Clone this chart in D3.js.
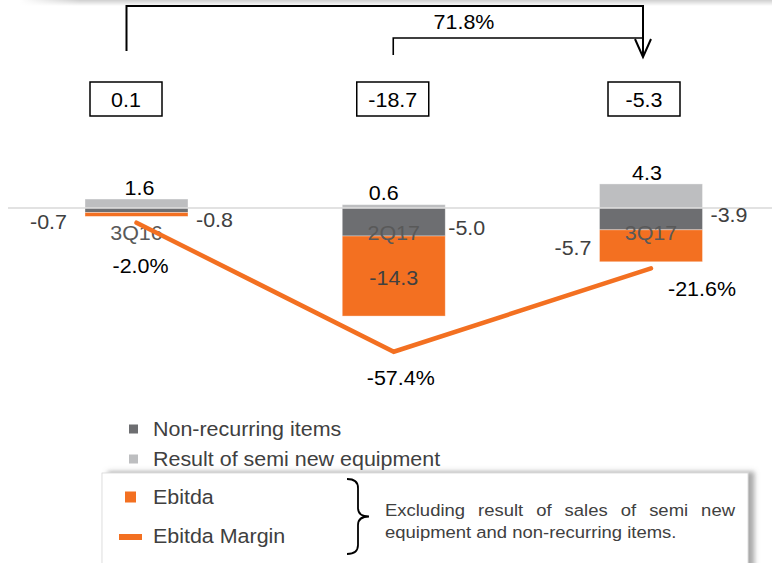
<!DOCTYPE html>
<html>
<head>
<meta charset="utf-8">
<script src="https://cdn.jsdelivr.net/npm/d3@7"></script>
<style>
  body { margin: 0; background: #fff; }
  svg { display: block; font-family: "Liberation Sans", Arial, sans-serif; }
</style>
</head>
<body>
<svg id="chart" width="772" height="563"></svg>
<script>
// Quarterly EBITDA bridge, R$ million
const quarters = ["3Q16", "2Q17", "3Q17"];
const ebitda = [-0.7, -14.3, -5.7];
const nonRecurring = [-0.8, -5.0, -3.9];
const semiNew = [1.6, 0.6, 4.3];
const totals = [0.1, -18.7, -5.3];
const ebitdaMargin = [-2.0, -57.4, -21.6];
const variationLabel = "71.8%";
const legendItems = ["Non-recurring items", "Result of semi new equipment"];
const boxLegendItems = ["Ebitda", "Ebitda Margin"];
const noteLines = ["Excluding result of sales of semi new", "equipment and non-recurring items."];

const COLORS = {
  orange: "#F37021",
  dark: "#6D6E71",
  light: "#BDBEC0",
  axis: "#D9D9D9",
  text: "#404040",
  cat: "#595959"
};

// slide text is set slightly wide
const SX = 1.1;
const FS = 19.5;

const svg = d3.select("#chart");
const defs = svg.append("defs");

// places text with its own origin so the horizontal widening keeps anchors
function place(sel, fx, fy) {
  return sel.attr("transform", (d, i) => `translate(${fx(d, i)},${fy(d, i)}) scale(${SX},1)`);
}

// soft shadow under the panel edge at the top
const topGrad = defs.append("linearGradient").attr("id", "topShade")
  .attr("x1", 0).attr("y1", 0).attr("x2", 0).attr("y2", 1);
topGrad.append("stop").attr("offset", 0).attr("stop-color", "#cfcfcf");
topGrad.append("stop").attr("offset", 1).attr("stop-color", "#ffffff");
const leftFade = defs.append("linearGradient").attr("id", "leftFade");
leftFade.append("stop").attr("offset", 0).attr("stop-color", "#fff").attr("stop-opacity", 1);
leftFade.append("stop").attr("offset", 0.08).attr("stop-color", "#fff").attr("stop-opacity", 0);

const shadow = defs.append("filter").attr("id", "boxShadow")
  .attr("x", "-5%").attr("y", "-20%").attr("width", "115%").attr("height", "140%");
shadow.append("feDropShadow").attr("dx", 6).attr("dy", -1)
  .attr("stdDeviation", 2.5).attr("flood-color", "#6f6f6f").attr("flood-opacity", 0.6);

svg.append("rect").attr("x", 20).attr("y", 0).attr("width", 752).attr("height", 6)
  .attr("fill", "url(#topShade)");
svg.append("rect").attr("x", 20).attr("y", 0).attr("width", 752).attr("height", 6)
  .attr("fill", "url(#leftFade)");

// scales
const x = d3.scalePoint().domain(quarters).range([136.5, 651]);
const barW = 103;
const yBar = d3.scaleLinear().domain([0, -20]).range([208, 320]);
const yPct = d3.scaleLinear().domain([0, -60]).range([218, 357.8]);

const fmt = v => v.toFixed(1);

// stacked segments: semi new above zero, non-recurring then ebitda below
const segs = [];
quarters.forEach((q, i) => {
  segs.push({ q, y0: 0, y1: semiNew[i], color: COLORS.light });
  segs.push({ q, y0: 0, y1: nonRecurring[i], color: COLORS.dark });
  segs.push({ q, y0: nonRecurring[i], y1: nonRecurring[i] + ebitda[i], color: COLORS.orange });
});

svg.append("g").selectAll("rect").data(segs).join("rect")
  .attr("x", d => x(d.q) - barW / 2)
  .attr("width", barW)
  .attr("y", d => Math.min(yBar(d.y0), yBar(d.y1)))
  .attr("height", d => Math.abs(yBar(d.y1) - yBar(d.y0)))
  .attr("fill", d => d.color)
  .attr("stroke", "#ffffff").attr("stroke-opacity", 0.45).attr("stroke-width", 0.8);

// zero line
svg.append("line").attr("x1", 8).attr("x2", 772)
  .attr("y1", yBar(0)).attr("y2", yBar(0))
  .attr("stroke", COLORS.axis).attr("stroke-width", 1.6);

// category labels
place(svg.append("g").selectAll("text").data(quarters).join("text"),
    d => x(d), () => yBar(0) + 25)
  .attr("text-anchor", "middle").attr("dominant-baseline", "central")
  .attr("font-size", FS).attr("fill", COLORS.cat)
  .text(d => d);

// semi new equipment values above the bars
place(svg.append("g").selectAll("text").data(quarters).join("text"),
    (d, i) => x(d) + [3, -10, -4][i], (d, i) => yBar(semiNew[i]) - 11.5)
  .attr("text-anchor", "middle").attr("dominant-baseline", "central")
  .attr("font-size", FS).attr("fill", "#000")
  .text((d, i) => fmt(semiNew[i]));

// non-recurring values, right of the bars
const nrGap = [8, 3, 8], nrDy = [10, 6, -4];
place(svg.append("g").selectAll("text").data(quarters).join("text"),
    (d, i) => x(d) + barW / 2 + nrGap[i], (d, i) => yBar(nonRecurring[i] / 2) + nrDy[i])
  .attr("text-anchor", "start").attr("dominant-baseline", "central")
  .attr("font-size", FS).attr("fill", COLORS.text)
  .text((d, i) => fmt(nonRecurring[i]));

// ebitda values: outside on the left for short bars, inside for the tall one
place(svg.append("g").selectAll("text").data(quarters).join("text"),
    (d, i) => i === 1 ? x(d) : x(d) - barW / 2 - [18, 0, 8][i],
    (d, i) => yBar(nonRecurring[i] + ebitda[i] / 2) + [7, 2, 2][i])
  .attr("text-anchor", (d, i) => i === 1 ? "middle" : "end")
  .attr("dominant-baseline", "central")
  .attr("font-size", FS).attr("fill", COLORS.text)
  .text((d, i) => fmt(ebitda[i]));

// ebitda margin line
const line = d3.line().x((d, i) => x(quarters[i])).y(d => yPct(d));
svg.append("path").datum(ebitdaMargin)
  .attr("d", line).attr("fill", "none")
  .attr("stroke", COLORS.orange).attr("stroke-width", 4.5)
  .attr("stroke-linecap", "round").attr("stroke-linejoin", "miter");

const pctOffset = [[4, 43], [7, 26], [51, 21]];
place(svg.append("g").selectAll("text").data(ebitdaMargin).join("text"),
    (d, i) => x(quarters[i]) + pctOffset[i][0], (d, i) => yPct(d) + pctOffset[i][1])
  .attr("text-anchor", "middle").attr("dominant-baseline", "central")
  .attr("font-size", FS).attr("fill", "#000")
  .text(d => fmt(d) + "%");

// total boxes
const boxW = 72, boxH = 34, boxTop = 82;
const boxShift = [-10.5, -1, -7];
const boxCx = quarters.map((q, i) => x(q) + boxShift[i]);
const boxes = svg.append("g").selectAll("g").data(totals).join("g")
  .attr("transform", (d, i) => `translate(${boxCx[i]},${boxTop})`);
boxes.append("rect").attr("x", -boxW / 2).attr("width", boxW).attr("height", boxH)
  .attr("fill", "#fff").attr("stroke", "#000").attr("stroke-width", 1.5);
place(boxes.append("text"), () => 0, () => boxH / 2 + 1)
  .attr("text-anchor", "middle").attr("dominant-baseline", "central")
  .attr("font-size", FS).attr("fill", "#000")
  .text(d => fmt(d));

// variation brackets
const bx1 = boxCx[0] + 0.5, bx2 = boxCx[1] + 0.5, bx3 = boxCx[2] - 1;
svg.append("path")
  .attr("d", `M${bx1},51 V6 H${bx3} V57`)
  .attr("fill", "none").attr("stroke", "#000").attr("stroke-width", 2);
svg.append("path")
  .attr("d", `M${bx3 - 8},39 L${bx3},57 L${bx3 + 8},39`)
  .attr("fill", "none").attr("stroke", "#000").attr("stroke-width", 2);
svg.append("path")
  .attr("d", `M${bx2},55 V38 H${bx3}`)
  .attr("fill", "none").attr("stroke", "#000").attr("stroke-width", 1.6);
place(svg.append("text"), () => 464, () => 22)
  .attr("text-anchor", "middle").attr("dominant-baseline", "central")
  .attr("font-size", FS).attr("fill", "#000").text(variationLabel);

// legend: plain items
const legendColors = [COLORS.dark, COLORS.light];
const lg = svg.append("g").selectAll("g").data(legendItems).join("g")
  .attr("transform", (d, i) => `translate(129,${429 + i * 30})`);
lg.append("rect").attr("x", 0).attr("y", -4.5).attr("width", 9).attr("height", 9)
  .attr("fill", (d, i) => legendColors[i]);
place(lg.append("text"), () => 24, () => 0)
  .attr("dominant-baseline", "central")
  .attr("font-size", FS).attr("fill", COLORS.text).text(d => d);

// legend: boxed items with note
svg.append("rect").attr("x", 102).attr("y", 473).attr("width", 646).attr("height", 110)
  .attr("fill", "#fff").attr("stroke", "#d6d6d6").attr("stroke-width", 0.8)
  .attr("filter", "url(#boxShadow)");

svg.append("rect").attr("x", 125).attr("y", 491.5).attr("width", 11).attr("height", 11)
  .attr("fill", COLORS.orange);
svg.append("line").attr("x1", 119).attr("x2", 142).attr("y1", 537).attr("y2", 537)
  .attr("stroke", COLORS.orange).attr("stroke-width", 6);
place(svg.append("g").selectAll("text").data(boxLegendItems).join("text"),
    () => 153, (d, i) => 497 + i * 39)
  .attr("dominant-baseline", "central")
  .attr("font-size", FS).attr("fill", COLORS.text).text(d => d);

// curly brace
svg.append("path")
  .attr("d", "M347,479 Q358,479 358,488 V508 Q358,516.5 369,516.5 Q358,516.5 358,525 V545 Q358,554 347,554")
  .attr("fill", "none").attr("stroke", "#000").attr("stroke-width", 1.8);

// justified note text
const noteX0 = 385, noteX1 = 735, noteFS = 16.8;
noteLines.forEach((ln, li) => {
  const y = 510 + li * 22;
  if (li === noteLines.length - 1) {
    place(svg.append("text"), () => noteX0, () => y)
      .attr("dominant-baseline", "central").attr("font-size", noteFS)
      .attr("fill", COLORS.text).text(ln);
    return;
  }
  const words = ln.split(" ");
  const nodes = words.map(w => svg.append("text")
    .attr("dominant-baseline", "central").attr("font-size", noteFS)
    .attr("fill", COLORS.text).text(w));
  const widths = nodes.map(n => n.node().getComputedTextLength() * SX);
  const gap = (noteX1 - noteX0 - d3.sum(widths)) / (words.length - 1);
  let cx = noteX0;
  nodes.forEach((n, k) => {
    n.attr("transform", `translate(${cx},${y}) scale(${SX},1)`);
    cx += widths[k] + gap;
  });
});
</script>
</body>
</html>
